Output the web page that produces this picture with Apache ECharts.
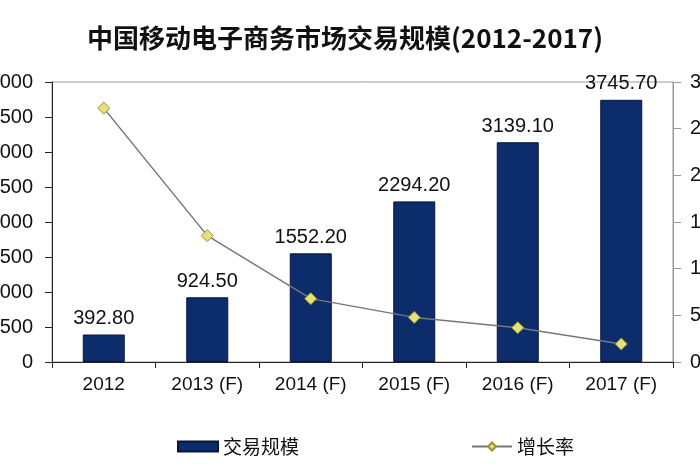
<!DOCTYPE html>
<html>
<head>
<meta charset="utf-8">
<script src="https://cdn.jsdelivr.net/npm/echarts@6/dist/echarts.min.js"></script>
<style>
    html, body { margin: 0; padding: 0; background: #fff; }
    #chart { width: 700px; height: 470px; }
</style>
</head>
<body>
<div id="chart"></div>
<script>
var YEARS = ['2012', '2013 (F)', '2014 (F)', '2015 (F)', '2016 (F)', '2017 (F)'];
var SCALE = [392.8, 924.5, 1552.2, 2294.2, 3139.1, 3745.7];   // 交易规模
var GROWTH = [272, 135.4, 67.9, 47.8, 36.8, 19.3];             // 增长率 (%)

var FONT = '"Liberation Sans", Arial, sans-serif';

var chart = echarts.init(document.getElementById('chart'));
chart.setOption({
    backgroundColor: '#fff',
    animation: false,
    title: {
        text: '中国移动电子商务市场交易规模(2012-2017)',
        left: 340,
        textAlign: 'center',
        top: 20,
        textStyle: {
            fontFamily: '"Noto Sans CJK SC", sans-serif',
            fontSize: 26,
            fontWeight: 'bold',
            color: '#111'
        }
    },
    legend: {
        left: 172,
        top: 432,
        itemWidth: 40,
        itemHeight: 10,
        itemGap: 172,
        textStyle: {
            fontFamily: '"Noto Sans CJK SC", sans-serif',
            fontSize: 19,
            color: '#111'
        },
        data: [{name: '交易规模', icon: 'rect'}, {name: '增长率'}]
    },
    grid: {
        left: 52,
        right: 27,
        top: 82,
        bottom: 108,
        containLabel: false,
        outerBoundsMode: 'none',
        show: true,
        borderColor: '#999',
        borderWidth: 1
    },
    xAxis: {
        type: 'category',
        data: YEARS,
        axisLine: {lineStyle: {color: '#222', width: 1}},
        axisTick: {show: true, alignWithLabel: false, length: 6, lineStyle: {color: '#222'}},
        axisLabel: {interval: 0, fontFamily: FONT, fontSize: 19, color: '#111', margin: 13}
    },
    yAxis: [{
        type: 'value',
        min: 0,
        max: 4000,
        interval: 500,
        splitLine: {show: false},
        axisLine: {show: true, lineStyle: {color: '#222', width: 1}},
        axisTick: {show: true, length: 7, lineStyle: {color: '#222'}},
        axisLabel: {
            fontFamily: FONT, fontSize: 20, color: '#111', margin: 19,
            formatter: function (v) { return String(v); }
        }
    }, {
        type: 'value',
        min: 0,
        max: 300,
        interval: 50,
        splitLine: {show: false},
        axisLine: {show: true, lineStyle: {color: '#999', width: 1}},
        axisTick: {show: true, length: 8, lineStyle: {color: '#999'}},
        axisLabel: {fontFamily: FONT, fontSize: 20, color: '#111', margin: 17, formatter: '{value}%'}
    }],
    series: [{
        name: '交易规模',
        type: 'bar',
        data: SCALE,
        barWidth: 42,
        itemStyle: {color: '#0c2c6c', borderColor: '#06163a', borderWidth: 1},
        label: {
            show: true,
            position: 'top',
            distance: 6,
            fontFamily: FONT,
            fontSize: 20,
            color: '#111',
            formatter: function (p) {
                return p.value.toFixed(2);
            }
        }
    }, {
        name: '增长率',
        type: 'line',
        yAxisIndex: 1,
        data: GROWTH,
        symbol: 'diamond',
        symbolSize: 12,
        lineStyle: {color: '#777', width: 1.5},
        itemStyle: {color: '#e6df7a', borderColor: '#9a9430', borderWidth: 1}
    }]
});
</script>
</body>
</html>
